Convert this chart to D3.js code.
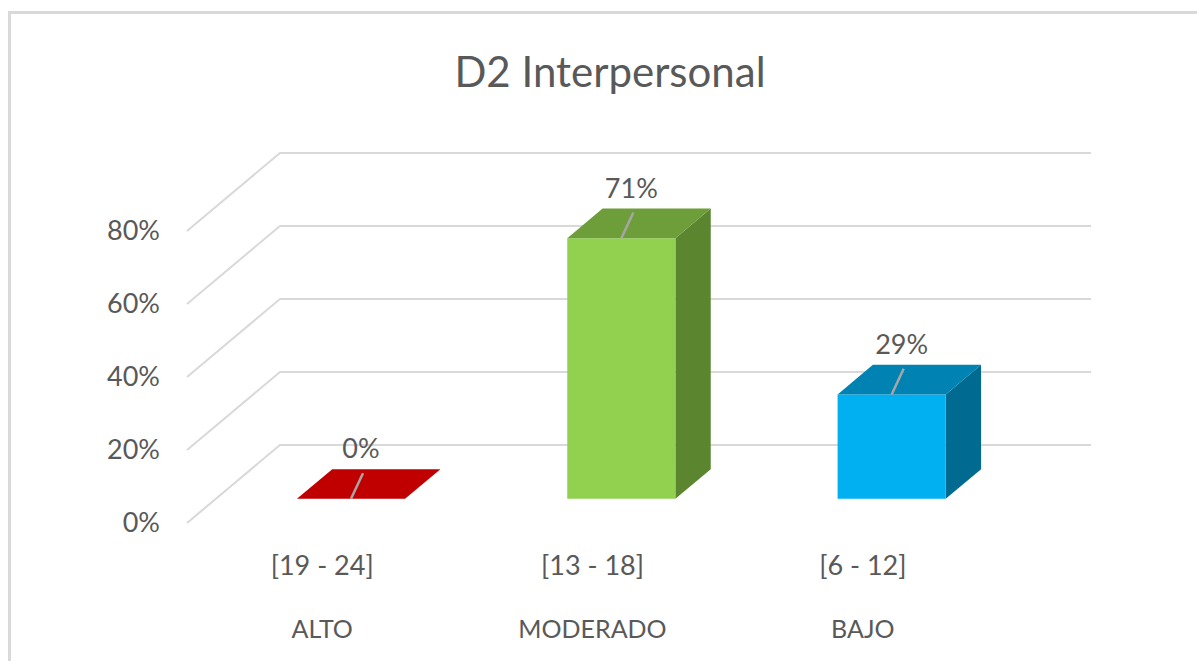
<!DOCTYPE html>
<html>
<head>
<meta charset="utf-8">
<script src="https://cdn.jsdelivr.net/npm/d3@7"></script>
<style>
  html, body { margin: 0; padding: 0; background: #fff; }
  svg { display: block; font-family: Lato, "Open Sans", sans-serif; }
</style>
</head>
<body>
<svg id="chart" width="1197" height="661"></svg>
<script>
// ---- data ----
const title = "D2 Interpersonal";
const ranges = ["[19 - 24]", "[13 - 18]", "[6 - 12]"];
const levels = ["ALTO", "MODERADO", "BAJO"];
const values = [0, 0.714, 0.286];
const ticks = [0, 0.2, 0.4, 0.6, 0.8];

// ---- style ----
const frontColors = ["#C00000", "#92D050", "#00B0F0"];
const topColors   = ["#C00000", "#6E9E3A", "#0083B3"];
const sideColors  = ["#A00000", "#5C8530", "#006A90"];
const textColor = "#595959";
const gridColor = "#D9D9D9";

const svg = d3.select("#chart");

// chart border (only top/left visible in frame)
svg.append("rect")
  .attr("x", 9.5).attr("y", 12.5).attr("width", 1300).attr("height", 800)
  .attr("fill", "#fff").attr("stroke", "#D9D9D9").attr("stroke-width", 3);

// ---- 3D projection ----
const X0 = 187, Y0 = 523, DX = 93, DY = 78;
const yScale = d3.scaleLinear().domain([0, 0.8]).range([0, 292]);
const xScale = d3.scaleBand().domain(levels).range([0, 811])
  .paddingInner(0.6).paddingOuter(0.3);
const D1 = 0.31, D2 = 0.69;
function proj(x, v, d) {
  return [X0 + x + d * DX, Y0 - yScale(v) - d * DY];
}
const poly = pts => "M" + pts.map(p => p.join(",")).join("L") + "Z";

// gridlines: back wall + side wall diagonals
const grid = svg.append("g").attr("stroke", gridColor).attr("stroke-width", 2).attr("fill", "none");
ticks.forEach(t => {
  const a = proj(0, t, 0), b = proj(0, t, 1), c = proj(xScale.range()[1], t, 1);
  grid.append("path").attr("d", `M${a}L${b}L${c}`);
});

// tick labels
svg.append("g").selectAll("text").data(ticks).join("text")
  .attr("x", d => proj(0, d, 0)[0] - 27)
  .attr("y", d => proj(0, d, 0)[1])
  .attr("dy", "0.35em")
  .attr("text-anchor", "end")
  .attr("fill", textColor)
  .attr("font-size", 27)
  .text(d3.format(".0%"));

// bars
const bars = svg.append("g");
levels.forEach((lev, i) => {
  const x0 = xScale(lev), x1 = x0 + xScale.bandwidth(), v = values[i];
  const g = bars.append("g");
  g.append("path").attr("fill", sideColors[i])
    .attr("d", poly([proj(x1, 0, D1), proj(x1, 0, D2), proj(x1, v, D2), proj(x1, v, D1)]));
  g.append("path").attr("fill", frontColors[i])
    .attr("d", poly([proj(x0, 0, D1), proj(x1, 0, D1), proj(x1, v, D1), proj(x0, v, D1)]));
  g.append("path").attr("fill", topColors[i])
    .attr("d", poly([proj(x0, v, D1), proj(x1, v, D1), proj(x1, v, D2), proj(x0, v, D2)]));
});

// data labels with leader lines
const fmt = d3.format(".0%");
levels.forEach((lev, i) => {
  const xc = xScale(lev) + xScale.bandwidth() / 2, v = values[i];
  const front = proj(xc, v, D1);
  const back = proj(xc, v, D2);
  const lx = front[0] + 10, ly = back[1] - 11;
  svg.append("line")
    .attr("x1", front[0]).attr("y1", front[1])
    .attr("x2", lx + 2).attr("y2", ly + 15)
    .attr("stroke", "#A6A6A6").attr("stroke-width", 2.5);
  svg.append("text")
    .attr("x", lx).attr("y", ly)
    .attr("text-anchor", "middle")
    .attr("fill", textColor)
    .attr("font-size", 27)
    .text(fmt(v));
});

// category labels (two levels)
const cat = svg.append("g").attr("fill", textColor).attr("text-anchor", "middle");
levels.forEach((lev, i) => {
  const xc = proj(xScale(lev) + xScale.bandwidth() / 2, 0, 0)[0];
  cat.append("text").attr("x", xc).attr("y", 575).attr("font-size", 27).text(ranges[i]);
  cat.append("text").attr("x", xc).attr("y", 638).attr("font-size", 25).text(lev);
});

// title
svg.append("text")
  .attr("x", 610).attr("y", 87)
  .attr("text-anchor", "middle")
  .attr("fill", textColor)
  .attr("font-size", 42)
  .text(title);
</script>
</body>
</html>
